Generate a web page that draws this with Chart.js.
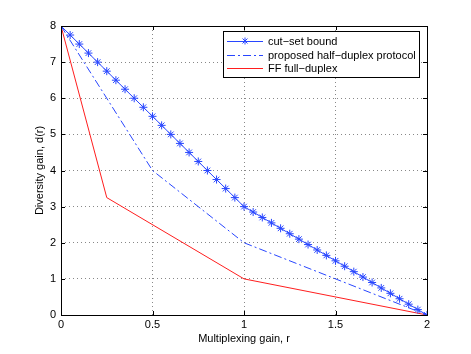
<!DOCTYPE html>
<html>
<head>
<meta charset="utf-8">
<script src="https://cdn.jsdelivr.net/npm/chart.js@4/dist/chart.umd.min.js"></script>
<style>
  html, body { margin: 0; padding: 0; background: #fff; }
  #wrap { position: relative; width: 471px; height: 354px; }
</style>
</head>
<body>
<div id="wrap"><canvas id="myChart" width="471" height="354"></canvas></div>
<script>
// values
const cutSetX = [0, 0.05, 0.1, 0.15, 0.2, 0.25, 0.3, 0.35, 0.4, 0.45, 0.5, 0.55, 0.6, 0.65, 0.7, 0.75, 0.8, 0.85, 0.9, 0.95, 1,
  1.05, 1.1, 1.15, 1.2, 1.25, 1.3, 1.35, 1.4, 1.45, 1.5, 1.55, 1.6, 1.65, 1.7, 1.75, 1.8, 1.85, 1.9, 1.95, 2];
const cutSetY = [8, 7.75, 7.5, 7.25, 7, 6.75, 6.5, 6.25, 6, 5.75, 5.5, 5.25, 5, 4.75, 4.5, 4.25, 4, 3.75, 3.5, 3.25, 3,
  2.85, 2.7, 2.55, 2.4, 2.25, 2.1, 1.95, 1.8, 1.65, 1.5, 1.35, 1.2, 1.05, 0.9, 0.75, 0.6, 0.45, 0.3, 0.15, 0];
const halfX = [0, 0.5, 1, 2];
const halfY = [8, 4, 2, 0];
const fullX = [0, 0.25, 1, 2];
const fullY = [8, 3.25, 1, 0];
const xTicks = [0, 0.5, 1, 1.5, 2];
const yTicks = [0, 1, 2, 3, 4, 5, 6, 7, 8];
const seriesNames = ["cut\u2212set bound", "proposed half\u2212duplex protocol", "FF full\u2212duplex"];

const BLUE = "rgb(40,70,255)";
const RED = "rgb(255,30,30)";
const FONT = "'Liberation Sans', Arial, sans-serif";

function toPts(xs, ys) {
  return xs.map((x, i) => ({ x: x, y: ys[i] }));
}

// box, inward ticks and legend like the matlab figure
const boxPlugin = {
  id: "box",
  afterDraw(chart) {
    const ctx = chart.ctx;
    const a = chart.chartArea;
    const xs = chart.scales.x, ys = chart.scales.y;
    ctx.save();
    ctx.strokeStyle = "#000";
    ctx.lineWidth = 1;
    ctx.strokeRect(Math.round(a.left) + 0.5, Math.round(a.top) + 0.5,
      Math.round(a.right - a.left), Math.round(a.bottom - a.top));
    ctx.beginPath();
    xTicks.forEach((v) => {
      const px = Math.round(xs.getPixelForValue(v)) + 0.5;
      ctx.moveTo(px, a.bottom); ctx.lineTo(px, a.bottom - 4);
      ctx.moveTo(px, a.top); ctx.lineTo(px, a.top + 4);
    });
    yTicks.forEach((v) => {
      const py = Math.round(ys.getPixelForValue(v)) + 0.5;
      ctx.moveTo(a.left, py); ctx.lineTo(a.left + 4, py);
      ctx.moveTo(a.right, py); ctx.lineTo(a.right - 4, py);
    });
    ctx.stroke();

    // legend
    const lx = 223, ly = 31, lw = 196, lh = 46;
    ctx.fillStyle = "#fff";
    ctx.fillRect(lx, ly, lw, lh);
    ctx.strokeRect(lx + 0.5, ly + 0.5, lw, lh);
    const rows = [41, 55, 68];
    ctx.font = "11px " + FONT;
    ctx.textBaseline = "middle";
    rows.forEach((ry, i) => {
      ctx.beginPath();
      ctx.lineWidth = 1;
      if (i === 0) { ctx.strokeStyle = BLUE; ctx.setLineDash([]); }
      if (i === 1) { ctx.strokeStyle = BLUE; ctx.setLineDash([8, 3, 2, 3]); }
      if (i === 2) { ctx.strokeStyle = RED; ctx.setLineDash([]); }
      ctx.moveTo(227, ry + 0.5); ctx.lineTo(263, ry + 0.5);
      ctx.stroke();
      ctx.setLineDash([]);
      if (i === 0) {
        ctx.beginPath();
        const cx = 245, r = 3.5;
        ctx.moveTo(cx - r, ry + 0.5); ctx.lineTo(cx + r, ry + 0.5);
        ctx.moveTo(cx, ry - r); ctx.lineTo(cx, ry + r);
        ctx.moveTo(cx - 2.5, ry - 2.5); ctx.lineTo(cx + 2.5, ry + 2.5);
        ctx.moveTo(cx - 2.5, ry + 2.5); ctx.lineTo(cx + 2.5, ry - 2.5);
        ctx.stroke();
      }
      ctx.fillStyle = "#000";
      ctx.fillText(seriesNames[i], 268, ry + 1);
    });
    ctx.restore();
  }
};

const ctx = document.getElementById("myChart");
new Chart(ctx, {
  type: "line",
  data: {
    datasets: [
      {
        label: seriesNames[0],
        data: toPts(cutSetX, cutSetY),
        borderColor: BLUE,
        backgroundColor: BLUE,
        borderWidth: 1,
        pointStyle: "star",
        pointRadius: 4,
        pointBorderWidth: 1,
        pointBorderColor: BLUE,
      },
      {
        label: seriesNames[1],
        data: toPts(halfX, halfY),
        borderColor: BLUE,
        borderWidth: 1,
        borderDash: [8, 3, 2, 3],
        pointRadius: 0,
      },
      {
        label: seriesNames[2],
        data: toPts(fullX, fullY),
        borderColor: RED,
        borderWidth: 1,
        pointRadius: 0,
      },
    ],
  },
  options: {
    responsive: false,
    animation: false,
    layout: { padding: { top: 26, right: 44, left: 33, bottom: 8 } },
    plugins: {
      legend: { display: false },
      tooltip: { enabled: false },
    },
    scales: {
      x: {
        type: "linear",
        min: 0,
        max: 2,
        afterBuildTicks: (s) => { s.ticks = xTicks.map((v) => ({ value: v })); },
        afterFit: (s) => { s.height = 31; },
        grid: {
          color: "#888",
          lineWidth: 1,
          drawTicks: false,
        },
        border: { display: false, dash: [1, 3] },
        ticks: {
          padding: 3,
          color: "#000",
          font: { family: FONT, size: 11 },
          callback: (v) => String(v),
        },
        title: {
          display: true,
          text: "Multiplexing gain, r",
          color: "#000",
          font: { family: FONT, size: 11 },
          padding: { top: 0, bottom: 0 },
        },
      },
      y: {
        type: "linear",
        min: 0,
        max: 8,
        afterBuildTicks: (s) => { s.ticks = yTicks.map((v) => ({ value: v })); },
        afterFit: (s) => { s.width = 28; },
        grid: {
          color: "#888",
          lineWidth: 1,
          drawTicks: false,
        },
        border: { display: false, dash: [1, 3] },
        ticks: {
          padding: 5,
          color: "#000",
          font: { family: FONT, size: 11 },
        },
        title: {
          display: true,
          text: "Diversity gain, d(r)",
          color: "#000",
          font: { family: FONT, size: 11 },
          padding: { top: 0, bottom: 0 },
        },
      },
    },
  },
  plugins: [boxPlugin],
});
</script>
</body>
</html>
